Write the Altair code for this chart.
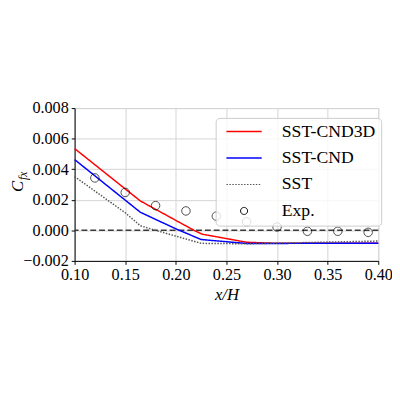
import altair as alt
import pandas as pd

series_names = ["SST-CND3D", "SST-CND", "SST", "Exp."]
series_colors = ["#ff0000", "#0000ff", "#555555", "#000000"]

red_x = [0.100, 0.165, 0.218, 0.226, 0.270, 0.300, 0.400]
red_y = [0.00535, 0.00192, 0.0000, -0.00025, -0.00078, -0.00085, -0.00085]

blue_x = [0.100, 0.165, 0.200, 0.225, 0.270, 0.400]
blue_y = [0.00463, 0.00118, 0.0001, -0.0006, -0.00086, -0.00084]

sst_x = [0.100, 0.150, 0.165, 0.180, 0.225, 0.270, 0.400]
sst_y = [0.00352, 0.00115, 0.0003, 0.0, -0.00085, -0.00088, -0.0007]

exp_x = [0.12, 0.15, 0.18, 0.21, 0.24, 0.27, 0.30, 0.33, 0.36, 0.39]
exp_y = [0.00343, 0.00248, 0.00162, 0.00127, 0.00093, 0.00056, 0.00022, -0.00006, -0.00006, -0.00013]

x_ticks = [0.10, 0.15, 0.20, 0.25, 0.30, 0.35, 0.40]
y_ticks = [-0.002, 0.000, 0.002, 0.004, 0.006, 0.008]

rows = []
for name, xs, ys in [("SST-CND3D", red_x, red_y), ("SST-CND", blue_x, blue_y), ("SST", sst_x, sst_y)]:
    for i, (a, b) in enumerate(zip(xs, ys)):
        rows.append({"x": a, "y": b, "series": name, "order": i})
lines_df = pd.DataFrame(rows)
exp_df = pd.DataFrame({"x": exp_x, "y": exp_y, "series": "Exp."})
zero_df = pd.DataFrame({"y": [0.0]})

FONT = "Liberation Serif"

xscale = alt.Scale(domain=[0.10, 0.40], nice=False, zero=False, padding=0)
yscale = alt.Scale(domain=[-0.002, 0.008], nice=False, zero=False, padding=0)
color_scale = alt.Scale(domain=series_names, range=series_colors)

xaxis = alt.Axis(values=x_ticks, format=".2f", title="x/H", titleFont=FONT, titleFontSize=17,
                 titleFontStyle="italic", titleFontWeight="normal", titlePadding=4,
                 labelFont=FONT, labelFontSize=16.5, labelPadding=2, labelColor="black",
                 labelOverlap=False, labelFlush=False,
                 tickSize=3.5, tickColor="black", domainColor="black",
                 gridColor="#d4d4d4", gridWidth=1, titleColor="black")
yaxis = alt.Axis(values=y_ticks, format=".3f", title=None,
                 labelFont=FONT, labelFontSize=16.5, labelPadding=3, labelColor="black",
                 labelOverlap=False, labelFlush=False,
                 tickSize=3.5, tickColor="black", domainColor="black",
                 gridColor="#d4d4d4", gridWidth=1)

small_circle = "M0.2,0A0.2,0.2,0,1,1,-0.2,0A0.2,0.2,0,1,1,0.2,0Z"
base_legend = dict(
    orient="none", legendX=144, legendY=10, title=None,
    symbolType="stroke", symbolSize=1296, symbolStrokeWidth=1.5, clipHeight=17,
    labelFont=FONT, labelFontSize=18, labelColor="black", labelOffset=29.5, symbolOffset=14.5,
    fillColor="rgba(255,255,255,0.8)", strokeColor="#cccccc", cornerRadius=4,
    padding=5.5, rowPadding=8,
)
symbol_encode = {
    "symbols": {"update": {
        "shape": {"signal": "datum.value === 'Exp.' ? '" + small_circle + "' : 'stroke'"},
        "strokeDash": {"signal": "datum.value === 'SST' ? [1.5, 1.5] : [1, 0]"},
        "fill": {"value": "transparent"},
        "strokeWidth": {"signal": "datum.value === 'Exp.' ? 1 : (datum.value === 'SST' ? 1.2 : 1.5)"},
        "opacity": {"value": 1},
    }},
    "labels": {"update": {
        "fontSize": {"value": 18},
        "font": {"value": FONT},
        "fill": {"value": "black"},
        "opacity": {"value": 1},
    }},
}


def build(legend):
    zero_line = alt.Chart(zero_df).mark_rule(color="#3a3a3a", strokeWidth=1.5, strokeDash=[6, 3]).encode(
        y=alt.Y("y:Q", scale=yscale, axis=yaxis)
    )
    lines = alt.Chart(lines_df).mark_line(strokeWidth=1.5).encode(
        x=alt.X("x:Q", scale=xscale, axis=xaxis),
        y=alt.Y("y:Q", scale=yscale, axis=yaxis),
        color=alt.Color("series:N", scale=color_scale, legend=legend),
        strokeDash=alt.StrokeDash("series:N", scale=alt.Scale(domain=["SST-CND3D", "SST-CND", "SST"],
                                                               range=[[1, 0], [1, 0], [1.5, 1.5]]), legend=None),
        strokeWidth=alt.StrokeWidth("series:N", scale=alt.Scale(domain=["SST-CND3D", "SST-CND", "SST"],
                                                                 range=[1.5, 1.5, 1.2]), legend=None),
        detail="series:N",
        order="order:Q",
    )
    points = alt.Chart(exp_df).mark_point(shape="circle", filled=False, size=75, strokeWidth=1).encode(
        x=alt.X("x:Q", scale=xscale, axis=xaxis),
        y=alt.Y("y:Q", scale=yscale, axis=yaxis),
        color=alt.Color("series:N", scale=color_scale, legend=legend),
    )
    ytitle = alt.Chart(pd.DataFrame({"t": ["C"]})).mark_text(
        font=FONT, fontSize=17, fontStyle="italic", angle=270,
        align="center", baseline="middle", color="black").encode(
        text="t:N", x=alt.value(-58), y=alt.value(80))
    ysub = alt.Chart(pd.DataFrame({"t": ["fx"]})).mark_text(
        font=FONT, fontSize=12, fontStyle="italic", angle=270,
        align="center", baseline="middle", color="black").encode(
        text="t:N", x=alt.value(-53), y=alt.value(69))
    c = alt.layer(zero_line, lines, points, ytitle, ysub).properties(
        width=310, height=156,
        autosize=alt.AutoSizeParams(type="none"),
        padding={"left": 68, "top": 99, "right": 14, "bottom": 50},
    ).configure_view(stroke="black", strokeWidth=1).configure(background="white")
    return c


chart = None
try:
    # legend "encode" is passed through to Vega by the Vega-Lite compiler but is hidden
    # from its JSON schema, so schema validation is switched off for this chart.
    from altair.utils import schemapi as _sp
    try:
        _sp.disable_debug_mode()
    except Exception:
        pass
    _orig_to_dict = alt.LayerChart.to_dict

    def _to_dict_nv(self, *args, **kwargs):
        if args:
            args = (False,) + tuple(args[1:])
        else:
            kwargs["validate"] = False
        return _orig_to_dict(self, *args, **kwargs)

    alt.LayerChart.to_dict = _to_dict_nv
    chart = build(alt.Legend(encode=symbol_encode, **base_legend))
    chart.to_dict()
except Exception:
    chart = None

if chart is None:
    try:
        alt.LayerChart.to_dict = _orig_to_dict
    except Exception:
        pass
    chart = build(alt.Legend(**base_legend))

chart.save("out.html", embed_options={"renderer": "svg", "actions": False})
